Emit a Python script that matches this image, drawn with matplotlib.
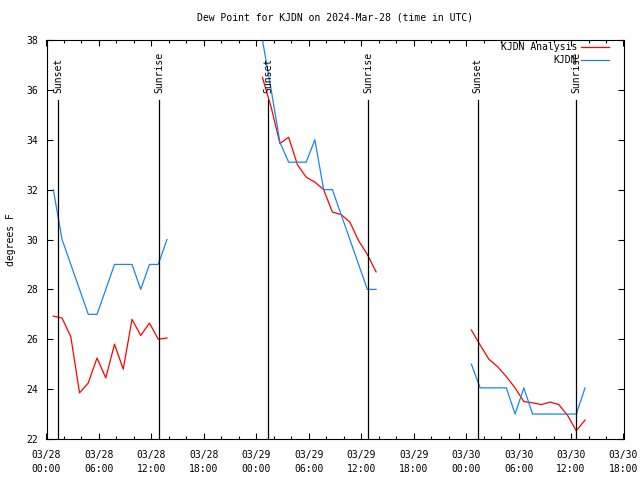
import numpy as np
import pandas as pd
import matplotlib
matplotlib.use("Agg")
import matplotlib.pyplot as plt
import matplotlib.dates as mdates

START = pd.Timestamp("2024-03-28 00:00")
END = pd.Timestamp("2024-03-30 18:00")

# observation times, hours after START, one list per day segment
hours_day1 = [0.78, 1.78, 2.78, 3.78, 4.78, 5.78, 6.78, 7.78, 8.78, 9.78, 10.78, 11.78, 12.78, 13.78]
hours_day2 = [24.7, 25.7, 26.7, 27.7, 28.7, 29.7, 30.7, 31.7, 32.7, 33.7, 34.7, 35.7, 36.7, 37.7]
hours_day3 = [48.6, 49.6, 50.6, 51.6, 52.6, 53.6, 54.6, 55.6, 56.6, 57.6, 58.6, 59.6, 60.6, 61.6]

# KJDN Analysis (red)
analysis_day1 = [26.93, 26.85, 26.1, 23.85, 24.25, 25.25, 24.45, 25.8, 24.8, 26.8, 26.15, 26.65, 26.0, 26.05]
analysis_day2 = [36.5, 35.3, 33.85, 34.1, 33.0, 32.5, 32.3, 32.0, 31.1, 31.0, 30.7, 29.95, 29.4, 28.7]
analysis_day3 = [26.37, 25.77, 25.2, 24.9, 24.5, 24.05, 23.5, 23.45, 23.38, 23.48, 23.38, 22.95, 22.33, 22.76]

# KJDN observed (blue)
obs_day1 = [32.0, 30.0, 29.0, 28.0, 27.0, 27.0, 28.0, 29.0, 29.0, 29.0, 28.0, 29.0, 29.0, 30.0]
obs_day2 = [38.0, 36.0, 33.9, 33.1, 33.1, 33.1, 34.0, 32.0, 32.0, 31.0, 30.0, 29.0, 28.0, 28.0]
obs_day3 = [25.0, 24.05, 24.05, 24.05, 24.05, 23.0, 24.05, 23.0, 23.0, 23.0, 23.0, 23.0, 23.0, 24.05]

sunset_hours = [1.35, 25.37, 49.33]
sunrise_hours = [12.87, 36.81, 60.57]

RED = "#ff0000"
BLUE = "#1a86ec"
FONT = "DejaVu Sans Mono"

plt.rcParams["font.family"] = FONT
plt.rcParams["font.size"] = 7


def to_time(hours):
    return START + pd.to_timedelta(hours, unit="h")


fig = plt.figure(figsize=(6.4, 4.8), dpi=100)
ax = fig.add_axes([46.5 / 640, 41 / 480, 577 / 640, 399 / 480])

segments = [
    (hours_day1, analysis_day1, obs_day1),
    (hours_day2, analysis_day2, obs_day2),
    (hours_day3, analysis_day3, obs_day3),
]
for i, (hrs, ana, obs) in enumerate(segments):
    t = to_time(hrs)
    ax.plot(t, ana, color=RED, lw=0.9, label="KJDN Analysis" if i == 0 else None)
    ax.plot(t, obs, color=BLUE, lw=0.9, label="KJDN" if i == 0 else None)

for name, hrs in (("Sunset", sunset_hours), ("Sunrise", sunrise_hours)):
    for h in hrs:
        t = to_time(h)
        ax.axvline(t, ymin=0, ymax=0.85, color="black", lw=0.9)
        ax.text(t, 0.868, name, rotation=90, ha="center", va="bottom",
                transform=ax.get_xaxis_transform(), fontsize=7)

ax.set_xlim(START, END)
ax.set_ylim(22, 38)
ax.set_yticks(np.arange(22, 39, 2))
ax.xaxis.set_major_locator(mdates.HourLocator(byhour=range(0, 24, 6)))
ax.xaxis.set_minor_locator(mdates.HourLocator(byhour=range(0, 24, 2)))
ax.xaxis.set_major_formatter(mdates.DateFormatter("%m/%d\n%H:%M"))
ax.tick_params(which="both", direction="in", top=True, right=True, width=0.8)
ax.tick_params(which="major", length=4)
ax.tick_params(which="minor", length=2)
ax.tick_params(axis="x", pad=8)
ax.tick_params(axis="y", pad=6)
for lbl in ax.get_xticklabels():
    lbl.set_linespacing(1.5)
for s in ax.spines.values():
    s.set_linewidth(0.8)

ax.set_title("Dew Point for KJDN on 2024-Mar-28 (time in UTC)", fontsize=7, pad=14)
ax.set_ylabel("degrees F")
ax.yaxis.set_label_coords(-0.052, 0.5)

ax.legend(loc="upper right", bbox_to_anchor=(0.9754, 0.995), frameon=False,
          markerfirst=False, borderaxespad=0, borderpad=0, handlelength=2.9,
          handletextpad=0.4, labelspacing=0.35, fontsize=7)

fig.savefig("out.png", dpi=100)
